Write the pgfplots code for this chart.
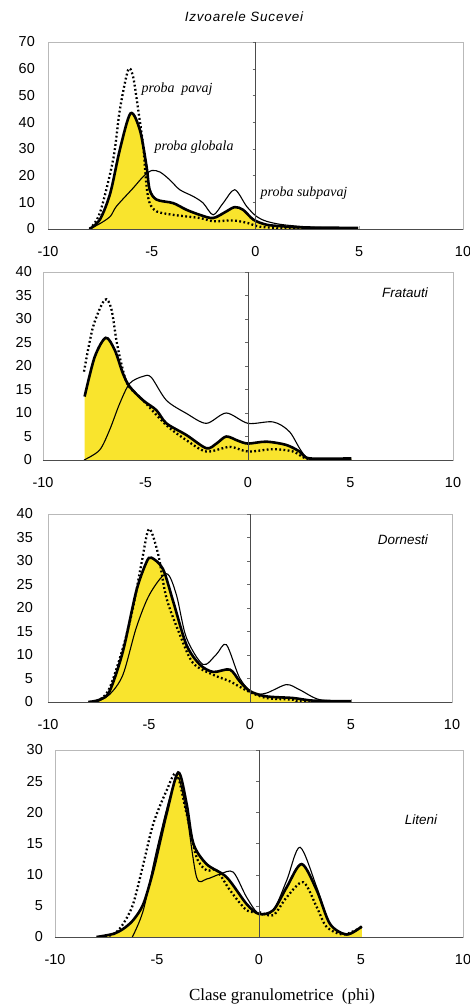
\documentclass[border=0pt]{standalone}
\usepackage{fontspec}
\setmainfont{Liberation Sans}
\newfontfamily\annfont{Liberation Serif}
\newfontfamily\titlefont[LetterSpace=6]{Liberation Sans}
\usepackage{pgfplots}
\usepackage{pgfplotstable}
\pgfplotsset{compat=1.18}

\definecolor{areayellow}{RGB}{249,228,45}

% ---- Izvoarele Sucevei
\pgfplotstableread{
x y
-8 0
-7.5 2
-7 4.7
-6.7 8.5
-5.9 15.3
-5.4 19.7
-5.0 21.9
-4.6 21.3
-4.13 18.4
-3.65 14.7
-3.0 12.2
-2.52 9.7
-2.04 5.3
-1.56 9.7
-1.0 14.7
-0.43 8.5
0.05 4.7
0.53 2.9
1.33 1.6
2.94 0.6
4.95 0.4
}\subA
\pgfplotstableread{
x y
-8 0
-7.5 3.5
-7.0 13.4
-6.54 29.6
-6.02 43.3
-5.57 37
-5.25 23.4
-5.1 14.7
-4.77 11
-3.97 9.7
-3.33 7.2
-2.68 5.3
-2.04 4.1
-1.4 6.6
-1.0 8.2
-0.6 7.2
-0.1 3.5
0.53 1.6
1.33 1.0
2.1 0.6
4.95 0.4
}\globA
\pgfplotstableread{
x y
-8 0
-7.5 6
-6.86 26
-6.54 44.5
-6.14 59.5
-5.9 57
-5.65 44.5
-5.41 30.8
-5.25 16
-5.1 9.7
-4.77 6.6
-3.97 5.3
-2.68 4.1
-2.04 2.9
-1.08 3.2
-0.35 2.2
0 1.2
0.53 0.6
2 0.35
5 0.25
}\pavA

% ---- Fratauti
\pgfplotstableread{
x y
-8 0
-7.24 2.1
-6.75 6.4
-6.26 12
-5.77 16.3
-5.12 17.8
-4.72 17.6
-3.98 12.7
-3.0 9.9
-2.03 7.8
-1.06 10
0 7.8
1.22 8.1
2.03 6
3.0 0.15
5.04 0.15
}\subB
\pgfplotstableread{
x y
-7.97 13.5
-7.48 21.9
-6.94 26
-6.5 23.4
-6.1 18.4
-5.77 15.6
-5.12 12.7
-4.47 10.6
-3.98 7.8
-3.0 5.3
-2.03 2.5
-1.54 3.5
-1.06 5
-0.49 4.1
0 3.5
0.89 3.9
1.87 3.2
2.52 1.8
3.0 0.35
5.04 0.35
}\globB
\pgfplotstableread{
x y
-8.0 18.8
-7.56 28.3
-6.99 34.1
-6.67 32.2
-6.42 25.5
-6.18 20.5
-5.85 15.9
-5.12 12.7
-3.98 7.4
-3.0 4.2
-2.03 1.8
-0.89 2.8
0 1.8
1.22 2.3
2.2 1.8
3.0 0.15
5.0 0.15
}\pavB

% ---- Dornesti
\pgfplotstableread{
x y
-7.6 0
-6.95 1.6
-6.29 5.8
-5.63 15.8
-4.97 22.9
-4.14 27.3
-3.65 22.9
-3.15 13.7
-2.33 8
-1.67 10.1
-1.17 12.2
-0.51 5.1
0.15 1.9
0.81 1.9
1.8 3.7
2.46 2.6
3.45 0.5
5.0 0.15
}\subC
\pgfplotstableread{
x y
-8.0 0
-7.44 0.5
-6.95 2.3
-6.29 10.8
-5.63 23.6
-5.13 29.7
-4.88 30.7
-4.31 28.3
-3.81 21.5
-3.15 12.2
-2.49 8
-1.83 6.4
-1.0 6.9
-0.51 4.4
0 2.3
0.81 1.2
2.13 0.85
3.12 0.3
5.0 0.15
}\globC
\pgfplotstableread{
x y
-8 0
-7.44 0.5
-6.95 3
-6.29 11.5
-5.79 20.1
-5.38 29.3
-5.0 36.8
-4.55 31.5
-4.14 22.2
-3.48 14.4
-2.82 8.3
-1.83 5.8
-1.0 4.4
-0.1 2.3
0.81 0.85
2.13 0.5
2.46 0.15
5.0 0.1
}\pavC

% ---- Liteni
\pgfplotstableread{
x y
-6.21 0
-5.67 4.3
-5.02 13.9
-4.37 22.4
-3.96 25.6
-3.55 19.8
-3.06 9.6
-2.57 9.3
-1.91 10.1
-1.26 10.4
-0.61 6.4
0 3.7
0.7 4.3
1.36 9.1
2.01 14.4
2.83 8
3.48 2.1
4.3 0.4
5.04 1.7
}\subD
\pgfplotstableread{
x y
-7.96 0
-7.15 0.5
-6.66 1.3
-6.17 2.7
-5.67 5.3
-5.18 10.7
-4.53 19.8
-3.96 26.4
-3.55 21.4
-3.22 15
-2.57 11.7
-1.59 9.6
-0.61 5.3
0 3.7
0.7 4.3
1.36 8
2.09 11.7
2.83 7.5
3.48 2.1
4.3 0.4
5.04 1.7
}\globD
\pgfplotstableread{
x y
-7.96 0
-7.15 0.4
-6.66 2.1
-6.17 5.3
-5.67 11.7
-5.18 18.2
-4.53 23.5
-4.04 26.2
-3.55 19.8
-3.06 12.8
-2.57 10.7
-2.08 10.7
-1.42 7.5
-0.61 4.3
0 4.0
0.7 3.5
1.36 6.4
2.17 8.8
2.83 4.8
3.32 1.6
4.14 0.4
5.04 1.6
}\pavD

\pgfplotsset{
  panel/.style={
    scale only axis, anchor=south west,
    xmin=-10, xmax=10, ymin=0,
    xtick={-10,-5,0,5,10}, xticklabels={-10,-5,0,5,10},
    xtick pos=left, xtick align=inside, major tick length=3bp,
    tick style={gray!70},
    ytick style={draw=none},
    axis line style={gray!55},
    ticklabel style={font=\fontsize{14.5}{16}\selectfont, inner sep=0pt},
    xticklabel style={anchor=center, yshift=-22.5bp},
    /pgf/number format/assume math mode=true,
  },
  zeroline/.style={
    scale only axis, anchor=south west,
    xmin=-10, xmax=10, ymin=0,
    axis x line=bottom, axis y line=middle,
    axis line style={-, black!70},
    xtick=\empty, yticklabels={},
    ytick align=center, major tick length=3bp,
    ytick style={black!60, xshift=-1.5bp},
  },
  globfill/.style={draw=none, fill=areayellow, smooth},
  globline/.style={black, line width=2.6bp, smooth},
  subline/.style={black, line width=1.1bp, smooth},
  pavline/.style={black, line width=2.3bp, dash pattern=on 1.8bp off 2.4bp, smooth},
}
\tikzset{
  labstyle/.style={font=\fontsize{13.5}{15}\selectfont\itshape},
  annstyle/.style={font=\fontsize{14}{16}\selectfont\annfont\itshape},
}

\begin{document}
\begin{tikzpicture}
\useasboundingbox (0,0) rectangle (470bp,-1008bp);

\node at (244bp,-17bp) {\fontsize{13.5}{15}\selectfont\titlefont\itshape Izvoarele Sucevei};

% panel 1
\begin{axis}[panel, at={(48bp,-229bp)}, width=415bp, height=187bp,
  ymax=70, ytick={0,10,...,70},
  yticklabel style={anchor=east, xshift=-13bp}]
\addplot[globfill] table {\globA} \closedcycle;
\addplot[subline] table {\subA};
\addplot[pavline] table {\pavA};
\addplot[globline] table {\globA};
\node[annstyle] at (axis cs:-3.78,52.4) {proba\ \ pavaj};
\node[annstyle] at (axis cs:-2.96,30.7) {proba globala};
\node[annstyle] at (axis cs:2.34,13.5) {proba subpavaj};
\end{axis}
\begin{axis}[zeroline, at={(48bp,-229bp)}, width=415bp, height=187bp,
  ymax=70, ytick={0,10,...,70}]
\end{axis}

% panel 2
\begin{axis}[panel, at={(43bp,-460bp)}, width=410bp, height=188bp,
  ymax=40, ytick={0,5,...,40},
  yticklabel style={anchor=east, xshift=-11bp}]
\addplot[globfill] table {\globB} \closedcycle;
\addplot[subline] table {\subB};
\addplot[pavline] table {\pavB};
\addplot[globline] table {\globB};
\node[labstyle] at (axis cs:7.66,35.6) {Fratauti};
\end{axis}
\begin{axis}[zeroline, at={(43bp,-460bp)}, width=410bp, height=188bp,
  ymax=40, ytick={0,5,...,40}]
\end{axis}

% panel 3
\begin{axis}[panel, at={(48bp,-702bp)}, width=404bp, height=188bp,
  ymax=40, ytick={0,5,...,40},
  yticklabel style={anchor=east, xshift=-15bp}]
\addplot[globfill] table {\globC} \closedcycle;
\addplot[subline] table {\subC};
\addplot[pavline] table {\pavC};
\addplot[globline] table {\globC};
\node[labstyle] at (axis cs:7.57,34.5) {Dornesti};
\end{axis}
\begin{axis}[zeroline, at={(48bp,-702bp)}, width=404bp, height=188bp,
  ymax=40, ytick={0,5,...,40}]
\end{axis}

% panel 4
\begin{axis}[panel, at={(55bp,-937bp)}, width=408bp, height=187bp,
  ymax=30, ytick={0,5,...,30},
  yticklabel style={anchor=east, xshift=-12bp}]
\addplot[globfill] table {\globD} \closedcycle;
\addplot[subline] table {\subD};
\addplot[pavline] table {\pavD};
\addplot[globline] table {\globD};
\node[labstyle] at (axis cs:7.94,18.8) {Liteni};
\end{axis}
\begin{axis}[zeroline, at={(55bp,-937bp)}, width=408bp, height=187bp,
  ymax=30, ytick={0,5,...,30}]
\end{axis}

\node at (282bp,-996bp) {\fontsize{17}{19}\selectfont\annfont Clase granulometrice\ \ (phi)};
\end{tikzpicture}
\end{document}
